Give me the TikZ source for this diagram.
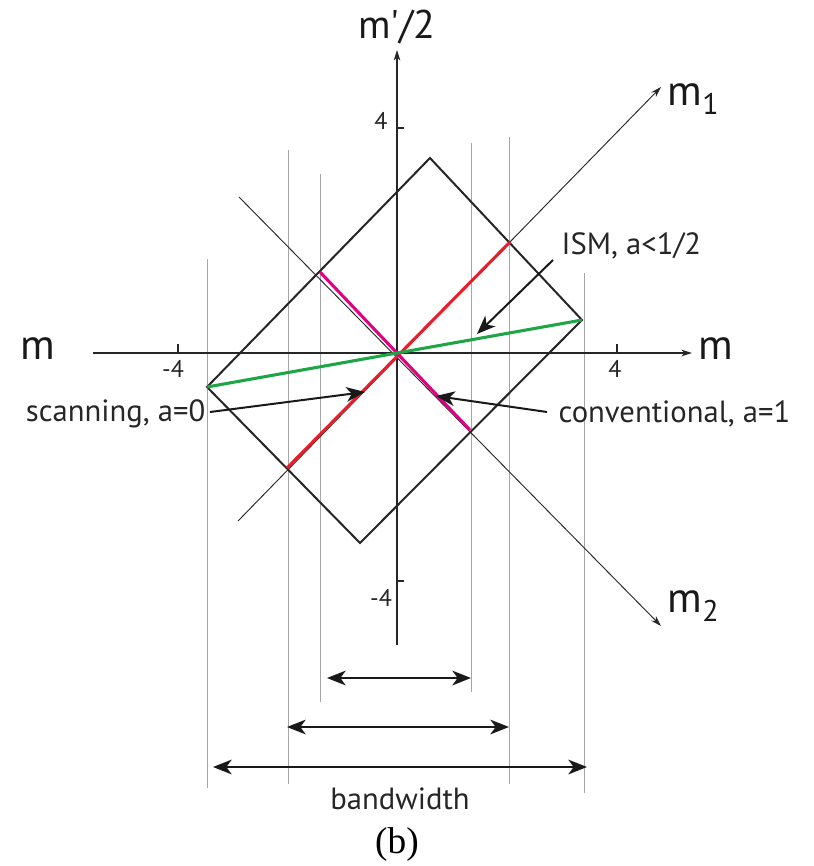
\documentclass[tikz,border=0pt]{standalone}
\usepackage{fontspec}
\setmainfont{PT Sans}
\newfontfamily\capfont{Liberation Serif}
\usetikzlibrary{arrows.meta}
\definecolor{cred}{RGB}{232,30,45}
\definecolor{cmag}{RGB}{226,0,130}
\definecolor{cgreen}{RGB}{30,165,70}
\tikzset{
  grid line/.style={draw=black!35, line width=0.6pt},
  axisline/.style={draw=black!85, line width=0.8pt},
  boxline/.style={draw=black!85, line width=1.5pt},
  colline/.style={line width=2.3pt},
  bigtip/.style={-{Stealth[length=14pt,width=11pt,inset=4pt]}},
  bothtip/.style={{Stealth[length=14pt,width=11pt,inset=4pt]}-{Stealth[length=14pt,width=11pt,inset=4pt]}, line width=1.8pt, draw=black!90},
  smalltip/.style={-{Stealth[length=8pt,width=5pt]}},
  lbl/.style={font=\fontsize{23}{26}\selectfont, text=black!85, inner sep=1pt},
  axlbl/.style={font=\fontsize{32}{34}\selectfont, text=black!90, inner sep=1pt},
  ticklbl/.style={font=\fontsize{18}{20}\selectfont, text=black!85, inner sep=1pt}
}
\begin{document}
\begin{tikzpicture}[x=0.75pt,y=-0.75pt]
\useasboundingbox (0,0) rectangle (813,866);
% coordinates
\coordinate (O) at (397,353);
\coordinate (T) at (430,158);
\coordinate (R) at (582,320);
\coordinate (B) at (360,543);
\coordinate (L) at (207,387);
% vertical grey lines
\coordinate (v1t) at (207,259); \coordinate (v1b) at (207,788);
\coordinate (v2t) at (288,150); \coordinate (v2b) at (288,784);
\coordinate (v3t) at (320,174); \coordinate (v3b) at (320,702);
\coordinate (v4t) at (471,143); \coordinate (v4b) at (471,692);
\coordinate (v5t) at (509,137); \coordinate (v5b) at (509,784);
\coordinate (v6t) at (584,273); \coordinate (v6b) at (584,793);
\foreach \i in {1,...,6} \draw[grid line] (v\i t) -- (v\i b);
% rectangle
\draw[boxline, line join=miter] (T) -- (R) -- (B) -- (L) -- cycle;
% axes
\coordinate (xl) at (93,353); \coordinate (xr) at (692,353);
\coordinate (yb) at (397,645); \coordinate (yt) at (397,50);
\draw[axisline, smalltip] (xl) -- (xr);
\draw[axisline, smalltip] (yb) -- (yt);
\coordinate (m1s) at (238,521); \coordinate (m1e) at (661,87);
\coordinate (m2s) at (239,197); \coordinate (m2e) at (661,626);
\draw[axisline, line width=0.7pt, smalltip] (m1s) -- (m1e);
\draw[axisline, line width=0.7pt, smalltip] (m2s) -- (m2e);
% ticks
\coordinate (tx1) at (178,353); \coordinate (tx1u) at (178,344);
\coordinate (tx2) at (617,353); \coordinate (tx2u) at (617,344);
\coordinate (ty1) at (397,128); \coordinate (ty1r) at (404,128);
\coordinate (ty2) at (397,581); \coordinate (ty2r) at (404,581);
\draw[axisline] (tx1) -- (tx1u) (tx2) -- (tx2u) (ty1) -- (ty1r) (ty2) -- (ty2r);
\node[ticklbl] (l1) at (173,369) {-4};
\node[ticklbl] (l2) at (615,369) {4};
\node[ticklbl] (l3) at (381,121) {4};
\node[ticklbl] (l4) at (381,598) {-4};
% colored lines
\coordinate (r1) at (287,468); \coordinate (r2) at (510,242);
\coordinate (p1) at (320,272); \coordinate (p2) at (470,430);
\draw[colline, cred] (r1) -- (r2);
\draw[colline, cmag] (p1) -- (p2);
\draw[colline, cgreen] (L) -- (R);
% axis labels
\node[axlbl, font=\fontsize{30}{32}\selectfont] (mp) at (397,27) {m\textquotesingle/2};
\node[axlbl] (ml) at (38,349) {m};
\node[axlbl] (mr) at (716,349) {m};
\node[axlbl, anchor=west] (m1) at (666,99) {m\textsubscript{1}};
\node[axlbl, anchor=west] (m2) at (666,606) {m\textsubscript{2}};
% annotations
\node[lbl, anchor=west] (ism) at (560,246) {ISM, a<1/2};
\node[lbl, anchor=east] (scan) at (207,414) {scanning, a=0};
\node[lbl, anchor=west] (conv) at (557,414) {conventional, a=1};
\coordinate (ismS) at (553,260); \coordinate (ismE) at (477,334);
\coordinate (scS) at (210,412); \coordinate (scE) at (365,392);
\coordinate (cvS) at (547,412); \coordinate (cvE) at (436,396);
\draw[line width=1.5pt, draw=black!90, bigtip] (ismS) -- (ismE);
\draw[line width=1.5pt, draw=black!90, bigtip] (scS) -- (scE);
\draw[line width=1.5pt, draw=black!90, bigtip] (cvS) -- (cvE);
% bandwidth arrows
\coordinate (a1l) at (327,678); \coordinate (a1r) at (471,678);
\coordinate (a2l) at (287,727); \coordinate (a2r) at (509,727);
\coordinate (a3l) at (213,767); \coordinate (a3r) at (587,767);
\draw[bothtip] (a1l) -- (a1r);
\draw[bothtip] (a2l) -- (a2r);
\draw[bothtip] (a3l) -- (a3r);
\node[lbl] (bw) at (400,799) {bandwidth};
\node[font=\capfont\fontsize{28}{30}\selectfont, inner sep=1pt] (cap) at (397,845) {(b)};
\end{tikzpicture}
\end{document}
